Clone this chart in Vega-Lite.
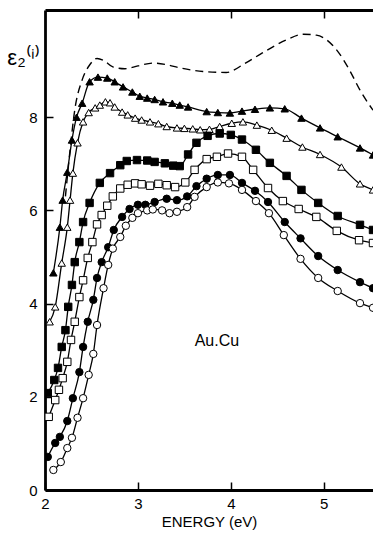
{
  "$schema": "https://vega.github.io/schema/vega-lite/v6.json",
  "width": 328,
  "height": 480,
  "autosize": {"type": "none"},
  "padding": {"left": 45, "top": 10, "right": 0, "bottom": 43},
  "background": "white",
  "config": {
    "view": {"stroke": null},
    "font": "Liberation Sans",
    "axis": {
      "domainColor": "black",
      "domainWidth": 2.8,
      "tickColor": "black",
      "tickWidth": 1.5,
      "tickSize": -8,
      "grid": false,
      "labelColor": "black",
      "labelFont": "Liberation Sans",
      "labelFontSize": 15,
      "titleColor": "black",
      "titleFont": "Liberation Sans",
      "titleFontWeight": "normal"
    }
  },
  "datasets": {
    "curves": [
      {"s": "dashed", "x": 2.22, "y": 6.3},
      {"s": "dashed", "x": 2.27, "y": 7.3},
      {"s": "dashed", "x": 2.32, "y": 8.15},
      {"s": "dashed", "x": 2.40, "y": 8.8},
      {"s": "dashed", "x": 2.48, "y": 9.12},
      {"s": "dashed", "x": 2.56, "y": 9.26},
      {"s": "dashed", "x": 2.63, "y": 9.22},
      {"s": "dashed", "x": 2.73, "y": 9.08},
      {"s": "dashed", "x": 2.86, "y": 9.04},
      {"s": "dashed", "x": 3.0, "y": 9.1},
      {"s": "dashed", "x": 3.16, "y": 9.16},
      {"s": "dashed", "x": 3.3, "y": 9.13},
      {"s": "dashed", "x": 3.45, "y": 9.06},
      {"s": "dashed", "x": 3.7, "y": 8.98},
      {"s": "dashed", "x": 3.95, "y": 8.96},
      {"s": "dashed", "x": 4.15, "y": 9.15},
      {"s": "dashed", "x": 4.34, "y": 9.38},
      {"s": "dashed", "x": 4.6, "y": 9.66},
      {"s": "dashed", "x": 4.78, "y": 9.78},
      {"s": "dashed", "x": 4.92, "y": 9.76},
      {"s": "dashed", "x": 5.14, "y": 9.44},
      {"s": "dashed", "x": 5.28, "y": 9.0},
      {"s": "dashed", "x": 5.39, "y": 8.58},
      {"s": "dashed", "x": 5.53, "y": 8.15},

      {"s": "tri_f", "x": 2.09, "y": 4.66},
      {"s": "tri_f", "x": 2.16, "y": 5.64},
      {"s": "tri_f", "x": 2.19, "y": 6.22},
      {"s": "tri_f", "x": 2.24, "y": 6.82},
      {"s": "tri_f", "x": 2.29, "y": 7.51},
      {"s": "tri_f", "x": 2.34, "y": 8.0},
      {"s": "tri_f", "x": 2.40, "y": 8.30},
      {"s": "tri_f", "x": 2.48, "y": 8.76},
      {"s": "tri_f", "x": 2.57, "y": 8.86},
      {"s": "tri_f", "x": 2.67, "y": 8.84},
      {"s": "tri_f", "x": 2.75, "y": 8.76},
      {"s": "tri_f", "x": 2.84, "y": 8.65},
      {"s": "tri_f", "x": 2.94, "y": 8.54},
      {"s": "tri_f", "x": 3.02, "y": 8.45},
      {"s": "tri_f", "x": 3.10, "y": 8.41},
      {"s": "tri_f", "x": 3.18, "y": 8.38},
      {"s": "tri_f", "x": 3.27, "y": 8.33},
      {"s": "tri_f", "x": 3.37, "y": 8.30},
      {"s": "tri_f", "x": 3.45, "y": 8.26},
      {"s": "tri_f", "x": 3.54, "y": 8.22},
      {"s": "tri_f", "x": 3.74, "y": 8.12},
      {"s": "tri_f", "x": 3.86, "y": 8.10},
      {"s": "tri_f", "x": 3.99, "y": 8.09},
      {"s": "tri_f", "x": 4.12, "y": 8.13},
      {"s": "tri_f", "x": 4.26, "y": 8.17},
      {"s": "tri_f", "x": 4.42, "y": 8.20},
      {"s": "tri_f", "x": 4.58, "y": 8.18},
      {"s": "tri_f", "x": 4.76, "y": 7.98},
      {"s": "tri_f", "x": 4.96, "y": 7.77},
      {"s": "tri_f", "x": 5.15, "y": 7.58},
      {"s": "tri_f", "x": 5.39, "y": 7.34},
      {"s": "tri_f", "x": 5.53, "y": 7.19},

      {"s": "tri_o", "x": 2.05, "y": 3.61},
      {"s": "tri_o", "x": 2.11, "y": 3.93},
      {"s": "tri_o", "x": 2.18, "y": 4.87},
      {"s": "tri_o", "x": 2.24, "y": 5.64},
      {"s": "tri_o", "x": 2.27, "y": 6.22},
      {"s": "tri_o", "x": 2.30, "y": 6.80},
      {"s": "tri_o", "x": 2.35, "y": 7.45},
      {"s": "tri_o", "x": 2.41, "y": 7.90},
      {"s": "tri_o", "x": 2.47, "y": 8.10},
      {"s": "tri_o", "x": 2.54, "y": 8.20},
      {"s": "tri_o", "x": 2.59, "y": 8.26},
      {"s": "tri_o", "x": 2.65, "y": 8.33},
      {"s": "tri_o", "x": 2.70, "y": 8.31},
      {"s": "tri_o", "x": 2.75, "y": 8.22},
      {"s": "tri_o", "x": 2.83, "y": 8.11},
      {"s": "tri_o", "x": 2.89, "y": 8.05},
      {"s": "tri_o", "x": 2.97, "y": 7.98},
      {"s": "tri_o", "x": 3.04, "y": 7.94},
      {"s": "tri_o", "x": 3.13, "y": 7.90},
      {"s": "tri_o", "x": 3.22, "y": 7.86},
      {"s": "tri_o", "x": 3.31, "y": 7.80},
      {"s": "tri_o", "x": 3.42, "y": 7.77},
      {"s": "tri_o", "x": 3.50, "y": 7.76},
      {"s": "tri_o", "x": 3.59, "y": 7.75},
      {"s": "tri_o", "x": 3.67, "y": 7.73},
      {"s": "tri_o", "x": 3.77, "y": 7.74},
      {"s": "tri_o", "x": 3.88, "y": 7.80},
      {"s": "tri_o", "x": 4.01, "y": 7.87},
      {"s": "tri_o", "x": 4.13, "y": 7.90},
      {"s": "tri_o", "x": 4.28, "y": 7.83},
      {"s": "tri_o", "x": 4.44, "y": 7.72},
      {"s": "tri_o", "x": 4.60, "y": 7.55},
      {"s": "tri_o", "x": 4.77, "y": 7.36},
      {"s": "tri_o", "x": 4.96, "y": 7.20},
      {"s": "tri_o", "x": 5.19, "y": 6.93},
      {"s": "tri_o", "x": 5.39, "y": 6.57},
      {"s": "tri_o", "x": 5.53, "y": 6.44},

      {"s": "sq_f", "x": 2.03, "y": 2.08},
      {"s": "sq_f", "x": 2.10, "y": 2.36},
      {"s": "sq_f", "x": 2.14, "y": 2.62},
      {"s": "sq_f", "x": 2.18, "y": 3.07},
      {"s": "sq_f", "x": 2.22, "y": 3.43},
      {"s": "sq_f", "x": 2.25, "y": 3.93},
      {"s": "sq_f", "x": 2.29, "y": 4.40},
      {"s": "sq_f", "x": 2.32, "y": 4.89},
      {"s": "sq_f", "x": 2.37, "y": 5.32},
      {"s": "sq_f", "x": 2.41, "y": 5.75},
      {"s": "sq_f", "x": 2.48, "y": 6.16},
      {"s": "sq_f", "x": 2.59, "y": 6.59},
      {"s": "sq_f", "x": 2.70, "y": 6.80},
      {"s": "sq_f", "x": 2.81, "y": 6.97},
      {"s": "sq_f", "x": 2.88, "y": 7.06},
      {"s": "sq_f", "x": 2.99, "y": 7.08},
      {"s": "sq_f", "x": 3.10, "y": 7.07},
      {"s": "sq_f", "x": 3.18, "y": 7.04},
      {"s": "sq_f", "x": 3.29, "y": 7.01},
      {"s": "sq_f", "x": 3.38, "y": 6.96},
      {"s": "sq_f", "x": 3.45, "y": 6.95},
      {"s": "sq_f", "x": 3.54, "y": 7.20},
      {"s": "sq_f", "x": 3.63, "y": 7.45},
      {"s": "sq_f", "x": 3.75, "y": 7.60},
      {"s": "sq_f", "x": 3.88, "y": 7.65},
      {"s": "sq_f", "x": 4.00, "y": 7.62},
      {"s": "sq_f", "x": 4.12, "y": 7.52},
      {"s": "sq_f", "x": 4.27, "y": 7.30},
      {"s": "sq_f", "x": 4.42, "y": 7.02},
      {"s": "sq_f", "x": 4.60, "y": 6.74},
      {"s": "sq_f", "x": 4.76, "y": 6.44},
      {"s": "sq_f", "x": 4.94, "y": 6.16},
      {"s": "sq_f", "x": 5.15, "y": 5.88},
      {"s": "sq_f", "x": 5.39, "y": 5.69},
      {"s": "sq_f", "x": 5.53, "y": 5.58},

      {"s": "sq_o", "x": 2.04, "y": 1.57},
      {"s": "sq_o", "x": 2.11, "y": 1.93},
      {"s": "sq_o", "x": 2.15, "y": 2.15},
      {"s": "sq_o", "x": 2.19, "y": 2.40},
      {"s": "sq_o", "x": 2.24, "y": 2.75},
      {"s": "sq_o", "x": 2.28, "y": 3.22},
      {"s": "sq_o", "x": 2.32, "y": 3.61},
      {"s": "sq_o", "x": 2.37, "y": 4.14},
      {"s": "sq_o", "x": 2.41, "y": 4.50},
      {"s": "sq_o", "x": 2.46, "y": 4.98},
      {"s": "sq_o", "x": 2.51, "y": 5.32},
      {"s": "sq_o", "x": 2.56, "y": 5.70},
      {"s": "sq_o", "x": 2.61, "y": 5.90},
      {"s": "sq_o", "x": 2.67, "y": 6.10},
      {"s": "sq_o", "x": 2.73, "y": 6.30},
      {"s": "sq_o", "x": 2.81, "y": 6.47},
      {"s": "sq_o", "x": 2.89, "y": 6.55},
      {"s": "sq_o", "x": 2.97, "y": 6.58},
      {"s": "sq_o", "x": 3.04, "y": 6.56},
      {"s": "sq_o", "x": 3.13, "y": 6.53},
      {"s": "sq_o", "x": 3.22, "y": 6.57},
      {"s": "sq_o", "x": 3.31, "y": 6.54},
      {"s": "sq_o", "x": 3.40, "y": 6.50},
      {"s": "sq_o", "x": 3.51, "y": 6.60},
      {"s": "sq_o", "x": 3.61, "y": 6.87},
      {"s": "sq_o", "x": 3.74, "y": 7.10},
      {"s": "sq_o", "x": 3.85, "y": 7.15},
      {"s": "sq_o", "x": 3.97, "y": 7.22},
      {"s": "sq_o", "x": 4.12, "y": 7.15},
      {"s": "sq_o", "x": 4.24, "y": 6.87},
      {"s": "sq_o", "x": 4.40, "y": 6.48},
      {"s": "sq_o", "x": 4.56, "y": 6.20},
      {"s": "sq_o", "x": 4.73, "y": 6.03},
      {"s": "sq_o", "x": 4.92, "y": 5.86},
      {"s": "sq_o", "x": 5.14, "y": 5.56},
      {"s": "sq_o", "x": 5.38, "y": 5.36},
      {"s": "sq_o", "x": 5.53, "y": 5.30},

      {"s": "ci_f", "x": 2.03, "y": 0.71},
      {"s": "ci_f", "x": 2.11, "y": 1.01},
      {"s": "ci_f", "x": 2.16, "y": 1.14},
      {"s": "ci_f", "x": 2.24, "y": 1.48},
      {"s": "ci_f", "x": 2.30, "y": 1.97},
      {"s": "ci_f", "x": 2.37, "y": 2.53},
      {"s": "ci_f", "x": 2.41, "y": 3.07},
      {"s": "ci_f", "x": 2.46, "y": 3.61},
      {"s": "ci_f", "x": 2.52, "y": 4.08},
      {"s": "ci_f", "x": 2.56, "y": 4.55},
      {"s": "ci_f", "x": 2.61, "y": 4.89},
      {"s": "ci_f", "x": 2.68, "y": 5.21},
      {"s": "ci_f", "x": 2.74, "y": 5.58},
      {"s": "ci_f", "x": 2.83, "y": 5.86},
      {"s": "ci_f", "x": 2.91, "y": 6.03},
      {"s": "ci_f", "x": 3.00, "y": 6.12},
      {"s": "ci_f", "x": 3.08, "y": 6.12},
      {"s": "ci_f", "x": 3.18, "y": 6.18},
      {"s": "ci_f", "x": 3.31, "y": 6.25},
      {"s": "ci_f", "x": 3.42, "y": 6.22},
      {"s": "ci_f", "x": 3.53, "y": 6.30},
      {"s": "ci_f", "x": 3.63, "y": 6.52},
      {"s": "ci_f", "x": 3.74, "y": 6.68},
      {"s": "ci_f", "x": 3.86, "y": 6.76},
      {"s": "ci_f", "x": 3.99, "y": 6.76},
      {"s": "ci_f", "x": 4.12, "y": 6.59},
      {"s": "ci_f", "x": 4.26, "y": 6.42},
      {"s": "ci_f", "x": 4.40, "y": 6.18},
      {"s": "ci_f", "x": 4.58, "y": 5.75},
      {"s": "ci_f", "x": 4.75, "y": 5.40},
      {"s": "ci_f", "x": 4.94, "y": 5.02},
      {"s": "ci_f", "x": 5.15, "y": 4.72},
      {"s": "ci_f", "x": 5.39, "y": 4.46},
      {"s": "ci_f", "x": 5.53, "y": 4.33},

      {"s": "ci_o", "x": 2.09, "y": 0.43},
      {"s": "ci_o", "x": 2.17, "y": 0.60},
      {"s": "ci_o", "x": 2.24, "y": 0.90},
      {"s": "ci_o", "x": 2.29, "y": 1.12},
      {"s": "ci_o", "x": 2.35, "y": 1.55},
      {"s": "ci_o", "x": 2.41, "y": 1.97},
      {"s": "ci_o", "x": 2.47, "y": 2.47},
      {"s": "ci_o", "x": 2.52, "y": 2.92},
      {"s": "ci_o", "x": 2.56, "y": 3.54},
      {"s": "ci_o", "x": 2.63, "y": 4.33},
      {"s": "ci_o", "x": 2.68, "y": 4.83},
      {"s": "ci_o", "x": 2.73, "y": 5.18},
      {"s": "ci_o", "x": 2.81, "y": 5.43},
      {"s": "ci_o", "x": 2.87, "y": 5.67},
      {"s": "ci_o", "x": 2.94, "y": 5.84},
      {"s": "ci_o", "x": 3.00, "y": 5.94},
      {"s": "ci_o", "x": 3.10, "y": 6.00},
      {"s": "ci_o", "x": 3.16, "y": 6.02},
      {"s": "ci_o", "x": 3.26, "y": 6.00},
      {"s": "ci_o", "x": 3.34, "y": 5.94},
      {"s": "ci_o", "x": 3.42, "y": 5.97},
      {"s": "ci_o", "x": 3.53, "y": 6.07},
      {"s": "ci_o", "x": 3.61, "y": 6.29},
      {"s": "ci_o", "x": 3.74, "y": 6.50},
      {"s": "ci_o", "x": 3.86, "y": 6.60},
      {"s": "ci_o", "x": 3.98, "y": 6.58},
      {"s": "ci_o", "x": 4.12, "y": 6.44},
      {"s": "ci_o", "x": 4.27, "y": 6.20},
      {"s": "ci_o", "x": 4.41, "y": 5.94},
      {"s": "ci_o", "x": 4.57, "y": 5.47},
      {"s": "ci_o", "x": 4.75, "y": 4.96},
      {"s": "ci_o", "x": 4.94, "y": 4.55},
      {"s": "ci_o", "x": 5.15, "y": 4.27},
      {"s": "ci_o", "x": 5.39, "y": 4.01},
      {"s": "ci_o", "x": 5.53, "y": 3.91}
    ],
    "labels": [
      {"x": 3.85, "y": 3.2, "text": "Au.Cu"}
    ]
  },
  "layer": [
    {
      "data": {"name": "curves"},
      "transform": [{"filter": "datum.s === 'dashed'"}],
      "mark": {"type": "line", "color": "black", "strokeWidth": 1.4, "strokeDash": [8, 5], "interpolate": "monotone", "clip": true},
      "encoding": {
        "x": {
          "field": "x", "type": "quantitative",
          "scale": {"domain": [2, 5.53], "nice": false, "zero": false},
          "axis": {"orient": "bottom", "values": [2, 3, 4, 5], "title": "ENERGY  (eV)", "titleFontSize": 15, "titlePadding": 3, "labelPadding": 14, "labelFlush": false, "labelFontSize": 15}
        },
        "y": {
          "field": "y", "type": "quantitative",
          "scale": {"domain": [0, 10.3], "nice": false, "zero": false},
          "axis": {"values": [0, 2, 4, 6, 8], "title": "ε₂⁽ⁱ⁾", "titleAngle": 0, "titleX": -22, "titleY": 54, "titleAlign": "center", "titleBaseline": "alphabetic", "titleFontSize": 22, "labelPadding": 16, "labelFontSize": 15}
        }
      }
    },
    {
      "data": {"name": "curves"},
      "transform": [{"filter": "datum.s !== 'dashed'"}],
      "mark": {"type": "line", "color": "black", "strokeWidth": 1.3, "interpolate": "monotone", "clip": true},
      "encoding": {
        "x": {"field": "x", "type": "quantitative",
          "axis": {"orient": "top", "values": [3, 4, 5], "labels": false, "title": null}},
        "y": {"field": "y", "type": "quantitative"},
        "detail": {"field": "s"}
      }
    },
    {
      "data": {"name": "curves"},
      "transform": [{"filter": "datum.s !== 'dashed'"}],
      "mark": {"type": "point", "filled": true, "stroke": "black", "strokeWidth": 1, "opacity": 1, "clip": true},
      "encoding": {
        "x": {"field": "x", "type": "quantitative", "axis": null},
        "y": {"field": "y", "type": "quantitative"},
        "shape": {"field": "s", "type": "nominal", "legend": null,
          "scale": {"domain": ["tri_f", "tri_o", "sq_f", "sq_o", "ci_f", "ci_o"], "range": ["triangle-up", "triangle-up", "square", "square", "circle", "circle"]}},
        "fill": {"field": "s", "type": "nominal", "legend": null,
          "scale": {"domain": ["tri_f", "tri_o", "sq_f", "sq_o", "ci_f", "ci_o"], "range": ["black", "white", "black", "white", "black", "white"]}},
        "size": {"field": "s", "type": "nominal", "legend": null,
          "scale": {"domain": ["tri_f", "tri_o", "sq_f", "sq_o", "ci_f", "ci_o"], "range": [55, 55, 34, 34, 22, 22]}}
      }
    },
    {
      "data": {"name": "labels"},
      "mark": {"type": "text", "fontSize": 16, "font": "Liberation Sans", "color": "black", "align": "center", "baseline": "middle"},
      "encoding": {
        "x": {"field": "x", "type": "quantitative", "axis": null},
        "y": {"field": "y", "type": "quantitative"},
        "text": {"field": "text"}
      }
    }
  ],
  "resolve": {"axis": {"x": "independent"}}
}
